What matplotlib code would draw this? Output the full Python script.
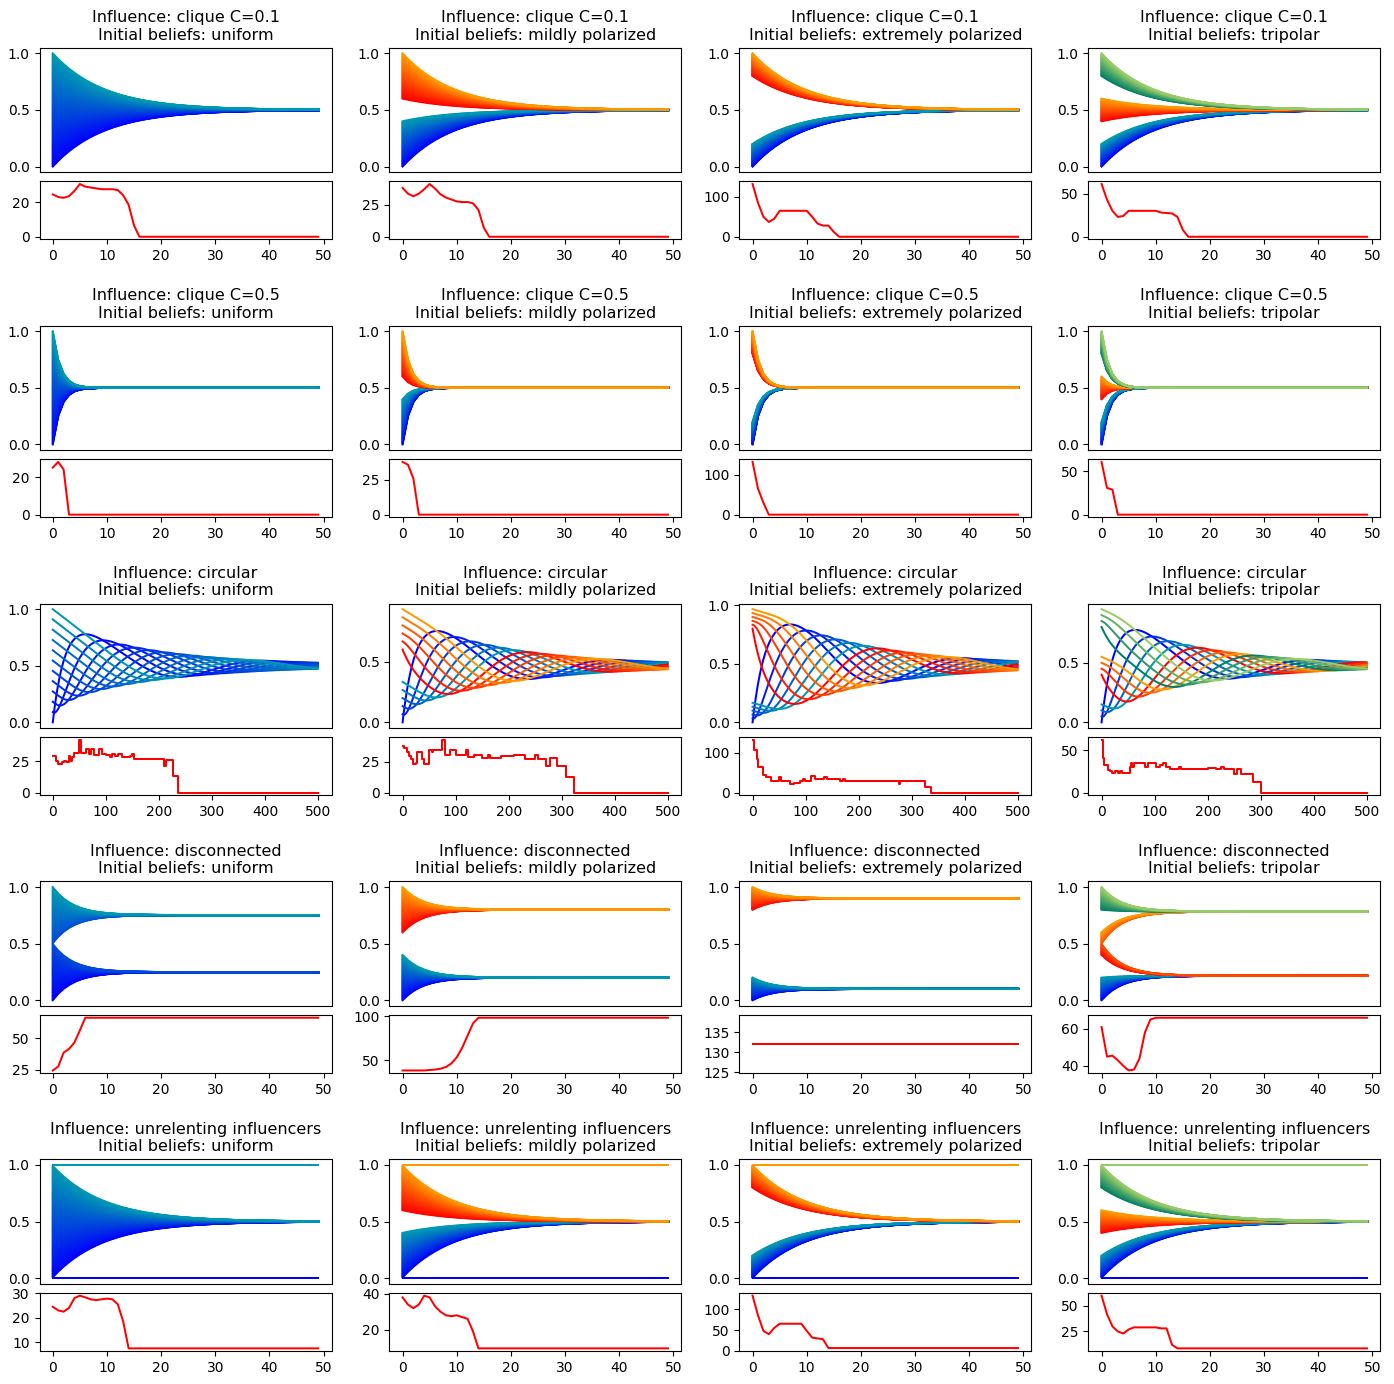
import numpy as np
import matplotlib.pyplot as plt

plt.rcParams['font.size'] = 10
plt.rcParams['axes.titlesize'] = 11.5
plt.rcParams['lines.linewidth'] = 1.44
plt.rcParams['axes.titlepad'] = 5.8

W, H = 1394, 1384
fig = plt.figure(figsize=(W / 100, H / 100), dpi=100)

influences = ['clique C=0.1', 'clique C=0.5', 'circular', 'disconnected', 'unrelenting influencers']
beliefs = ['uniform', 'mildly polarized', 'extremely polarized', 'tripolar']

# model settings per influence row: (kind, rate, steps)
models = [('clique', 0.1, 50), ('clique', 0.5, 50), ('circular', 0.04, 500),
          ('disconnected', 0.23, 50), ('unrelenting', 0.1, 50)]

# initial belief groups: (low, high, colormap)
groups = {
    'uniform': [(0.0, 1.0, 'winter')],
    'mildly polarized': [(0.0, 0.4, 'winter'), (0.6, 1.0, 'autumn')],
    'extremely polarized': [(0.0, 0.2, 'winter'), (0.8, 1.0, 'autumn')],
    'tripolar': [(0.0, 0.2, 'winter'), (0.4, 0.6, 'autumn'), (0.8, 1.0, 'summer')],
}
n_big = 120    # agents in the clique-type runs
n_small = 12   # agents in the circular runs

# polarization measure (50 steps)
pol_c01_uniform = [24.5, 23, 22.5, 23.5, 26.5, 30.5, 29, 28.5, 28, 27.5, 27.5, 27.5, 27, 24, 18.5, 6.5] + [0] * 34
pol_c01_mild = [38, 33.5, 31.5, 33.5, 37, 41, 37.5, 33, 30.5, 29, 27.5, 27, 27, 26, 21, 7] + [0] * 34
pol_c01_extreme = [132, 85, 50, 37, 45, 65, 65, 65, 65, 65, 65, 50, 33, 28, 28, 12] + [0] * 34
pol_c01_tri = [61, 43, 30, 23, 24, 30, 30, 30, 30, 30, 30, 28, 27.5, 27, 23, 8] + [0] * 34

pol_c05_uniform = [25, 28, 24] + [0] * 47
pol_c05_mild = [38, 36, 26] + [0] * 47
pol_c05_extreme = [132, 65, 30] + [0] * 47
pol_c05_tri = [61, 31, 29] + [0] * 47

pol_dis_uniform = [24.5, 27.5, 38.5, 41.5, 46.5, 56, 66] + [66] * 43
pol_dis_mild = [38, 38, 38, 38, 38, 38.5, 39, 40, 42, 46, 53, 64, 78, 92, 98.5] + [98.5] * 35
pol_dis_extreme = [132] * 50
pol_dis_tri = [61, 45, 45.5, 43, 40, 37.5, 38, 44, 58, 65, 66] + [66] * 39

pol_unr_uniform = [24.5, 23, 22.5, 24, 28, 29, 28.3, 27.5, 27.2, 27.5, 27.8, 27.5, 25.5, 18.5, 7.6] + [7.6] * 35
pol_unr_mild = [38, 34, 32, 34, 39, 38, 33, 30, 28, 27.5, 28, 27, 26, 19, 9.5] + [9.5] * 35
pol_unr_extreme = [132, 85, 48, 40, 55, 65, 65, 65, 65, 65, 48, 32, 30, 28, 7] + [7] * 35
pol_unr_tri = [60, 42, 30, 25, 23, 27, 29, 29, 29, 29, 29, 28, 28, 12, 8.5] + [8.5] * 35

# circular runs: step change points (time, value)
circ_uniform_t = [0, 6, 9, 18, 22, 25, 30, 33, 37, 40, 50, 53, 62, 68, 72, 78, 88, 93, 100, 108,
                  112, 118, 122, 130, 145, 150, 153, 210, 213, 226, 236, 500]
circ_uniform_v = [29.5, 25, 23, 24, 25.5, 24, 29, 25, 28, 31.5, 42, 31.5, 35, 31, 35, 30, 35, 31, 30, 28.5,
                  30.5, 29, 30.5, 28, 29.5, 30.5, 27, 21.5, 26, 13, 0, 0]
circ_mild_t = [0, 3, 8, 12, 16, 20, 25, 28, 36, 40, 50, 55, 58, 75, 80, 90, 100, 120, 123, 135, 150,
               160, 165, 185, 195, 210, 230, 250, 255, 270, 277, 290, 307, 322, 500]
circ_mild_v = [38, 36, 33, 30, 27, 23.5, 24, 33, 27, 23, 35, 33, 35, 43, 31, 35, 31, 35, 29, 31, 28,
               31, 28, 30, 30, 31, 27, 31, 27, 22, 28, 22, 13, 0, 0]
circ_extreme_t = [0, 3, 8, 10, 18, 20, 25, 30, 35, 45, 50, 53, 70, 78, 90, 95, 98, 110, 118, 135, 140,
                  160, 165, 170, 175, 200, 275, 278, 325, 337, 500]
circ_extreme_v = [132, 107, 85, 65, 65, 45, 38, 40, 28, 28, 38, 28, 22, 25, 28, 33, 28, 42, 35, 40, 35,
                  33, 30, 33, 30, 28, 22, 28, 15, 0, 0]
circ_tri_t = [0, 2, 5, 12, 16, 20, 25, 30, 35, 38, 53, 55, 58, 62, 82, 88, 102, 110, 115, 122, 128,
              145, 150, 200, 215, 225, 230, 250, 255, 262, 285, 300, 500]
circ_tri_v = [62, 41, 32, 27, 25, 23, 25, 23, 25, 23, 30, 35, 30, 35, 30, 35, 30, 32, 35, 30, 28,
              30, 28, 29, 28, 30, 28, 22, 28, 22, 13, 0, 0]

pol50 = [
    [pol_c01_uniform, pol_c01_mild, pol_c01_extreme, pol_c01_tri],
    [pol_c05_uniform, pol_c05_mild, pol_c05_extreme, pol_c05_tri],
    None,
    [pol_dis_uniform, pol_dis_mild, pol_dis_extreme, pol_dis_tri],
    [pol_unr_uniform, pol_unr_mild, pol_unr_extreme, pol_unr_tri],
]
pol_circ = [(circ_uniform_t, circ_uniform_v), (circ_mild_t, circ_mild_v),
            (circ_extreme_t, circ_extreme_v), (circ_tri_t, circ_tri_v)]


def initial(name, n, endpoint):
    vals, cols = [], []
    gs = groups[name]
    per = n // len(gs)
    for lo, hi, cmap in gs:
        if len(gs) == 1:
            v = np.linspace(lo, hi, per)
        else:
            v = np.linspace(lo, hi, per, endpoint=endpoint)
        vals.append(v)
        cols += [plt.get_cmap(cmap)(c) for c in np.linspace(0, 0.6, per)]
    return np.concatenate(vals), cols


def run(kind, rate, steps, b):
    b = b.copy()
    hist = [b.copy()]
    n = len(b)
    for _ in range(steps - 1):
        if kind == 'clique':
            b = b + rate * (b.mean() - b)
        elif kind == 'disconnected':
            h = n // 2
            b[:h] = b[:h] + rate * (b[:h].mean() - b[:h])
            b[h:] = b[h:] + rate * (b[h:].mean() - b[h:])
        elif kind == 'unrelenting':
            m = b.mean()
            b[1:-1] = b[1:-1] + rate * (m - b[1:-1])
        else:
            b = b + rate * (np.roll(b, 1) - b)
        hist.append(b.copy())
    return np.array(hist)


col_left = [39.5, 389.3, 739.3, 1088.3]
ax_w = 292

for r, infl in enumerate(influences):
    kind, rate, steps = models[r]
    top = 47.7 + 277.9 * r
    for c, bel in enumerate(beliefs):
        left = col_left[c]
        ax = fig.add_axes([left / W, 1 - (top + 124.5) / H, ax_w / W, 124.5 / H])
        ax2 = fig.add_axes([left / W, 1 - (top + 133.7 + 58) / H, ax_w / W, 58 / H], sharex=ax)

        if kind == 'circular':
            b0, cols = initial(bel, n_small, endpoint=False)
        else:
            b0, cols = initial(bel, n_big, endpoint=True)
        hist = run(kind, rate, steps, b0)
        t = np.arange(steps)
        for i in range(hist.shape[1]):
            ax.plot(t, hist[:, i], color=cols[i])

        ax.set_title('Influence: %s\nInitial beliefs: %s' % (infl, bel))
        ax.tick_params(bottom=False, labelbottom=False)

        if kind == 'circular':
            tt, vv = pol_circ[c]
            ax2.plot(tt, vv, color='red', drawstyle='steps-post')
        else:
            ax2.plot(t, pol50[r][c], color='red')
        if kind == 'unrelenting' and bel == 'extremely polarized':
            ax2.set_yticks([0, 50, 100])

fig.savefig('out.png', dpi=100)
